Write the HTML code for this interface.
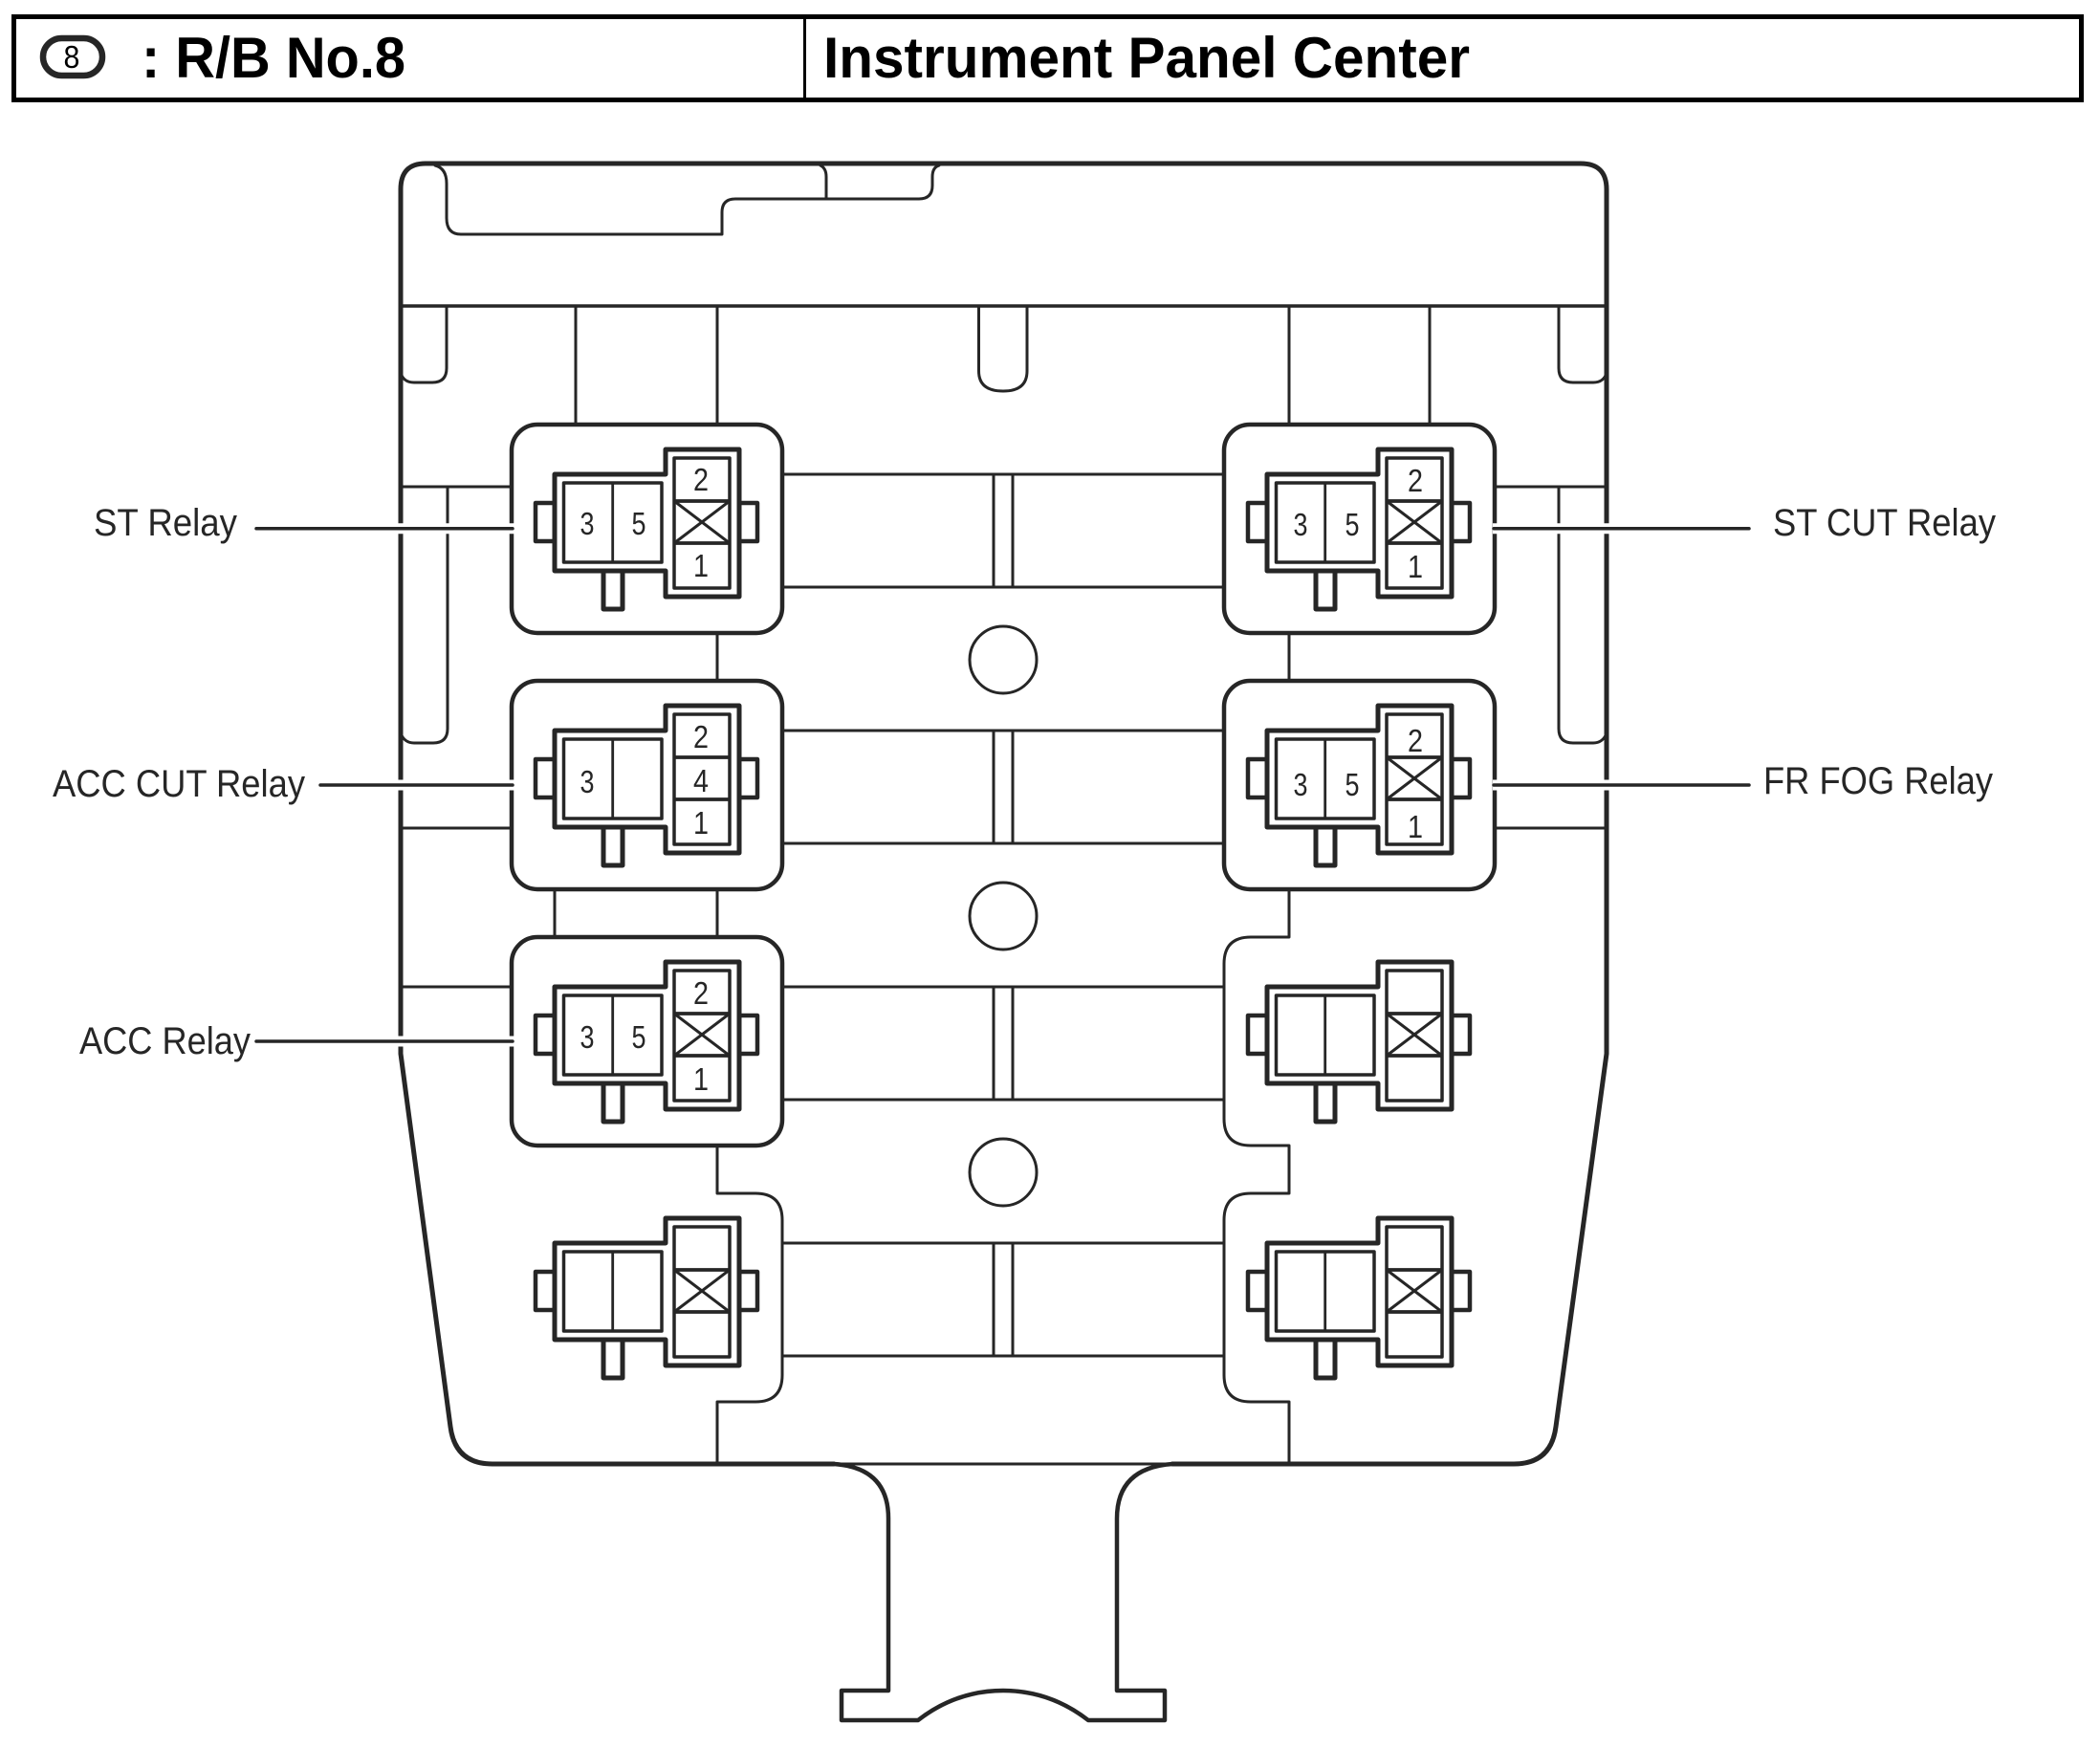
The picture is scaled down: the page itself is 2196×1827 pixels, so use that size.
<!DOCTYPE html>
<html>
<head>
<meta charset="utf-8">
<style>
html,body{margin:0;padding:0;background:#fff;}
svg{display:block;}
text{font-family:"Liberation Sans",sans-serif;fill:#262626;}
</style>
</head>
<body>
<svg width="2196" height="1827" viewBox="0 0 2196 1827" xmlns="http://www.w3.org/2000/svg">
<defs>
  <g id="c" fill="none" stroke="#262626" stroke-linejoin="round">
    <path d="M580 526H560V566H580" stroke-width="4.5"/>
    <path d="M773 526H792V566H773" stroke-width="4.5"/>
    <path d="M631 597V637H651V597" stroke-width="5"/>
    <path d="M580 496H696V470H773V624H696V597H580Z" stroke-width="5"/>
    <rect x="589.5" y="505" width="102.5" height="83" stroke-width="3.5"/>
    <rect x="705" y="479" width="58" height="136" stroke-width="3.5"/>
    <path d="M640.7 505V588" stroke-width="2.8"/>
    <path d="M705 524H763M705 568H763" stroke-width="3.8"/>
  </g>
  <path id="x" d="M705 524L763 568M763 524L705 568" fill="none" stroke="#262626" stroke-width="3"/>
  <g id="bars" fill="none" stroke="#262626" stroke-width="3">
    <path d="M818 496H1281M818 614H1281"/>
    <path d="M1039 496V614M1059 496V614"/>
  </g>
  <rect id="box" x="535" y="444" width="283" height="218" rx="27" ry="27" fill="#fff" stroke="#262626" stroke-width="4.5"/>
</defs>
<rect width="2196" height="1827" fill="#fff"/>

<!-- header -->
<rect x="14.5" y="17.5" width="2162" height="87" fill="none" stroke="#000" stroke-width="5"/>
<path d="M841.5 18V104" stroke="#000" stroke-width="3"/>
<rect x="45" y="40" width="62" height="39" rx="19.5" ry="19.5" fill="#fff" stroke="#262626" stroke-width="6.5"/>
<text x="75" y="71" font-size="33" text-anchor="middle" style="fill:#000" transform="translate(75 0) scale(.92 1) translate(-75 0)">8</text>
<text x="148" y="81" font-size="60" font-weight="700" style="fill:#000" textLength="276" lengthAdjust="spacingAndGlyphs">: R/B No.8</text>
<text x="861" y="81" font-size="60" font-weight="700" style="fill:#000" textLength="676" lengthAdjust="spacingAndGlyphs">Instrument Panel Center</text>

<!-- body outline -->
<g fill="none" stroke="#262626" stroke-linejoin="round" stroke-linecap="round">
  <path d="M445 171H1653Q1680 171 1680 198V1102L1627 1492Q1622 1531 1583 1531H1226" stroke-width="5"/>
  <path d="M872 1531H515Q476 1531 471 1492L419 1102V198Q419 171 445 171" stroke-width="5"/>
  <path d="M872 1531Q929 1535 929 1588V1768H880V1799H960Q1000 1768 1049 1768Q1098 1768 1138 1799H1218V1768H1168V1588Q1168 1535 1226 1531" stroke-width="4.5"/>
  <path d="M872 1531H1226" stroke-width="3"/>
  <!-- top notch -->
  <path d="M455 173Q467 176 467 192V228Q467 245 482 245H755V222Q755 208 769 208H961Q975 208 975 194V185Q975 175 982 173" stroke-width="3"/>
  <path d="M864 208V185Q864 176 858 173" stroke-width="3"/>
  <path d="M419 320H1680" stroke-width="3.5"/>
  <!-- upper tabs -->
  <path d="M467 320V385Q467 400 452 400H433Q422 400 419 390" stroke-width="3"/>
  <path d="M1023.5 320V388Q1023.5 409 1049 409Q1074 409 1074 388V320" stroke-width="3"/>
  <path d="M1630 320V385Q1630 400 1645 400H1666Q1677 400 1680 390" stroke-width="3"/>
  <!-- verticals top -->
  <path d="M602 320V444M750 320V444M1348 320V444M1495 320V444" stroke-width="3"/>
  <!-- between boxes -->
  <path d="M750 662V712M1348 662V712M580 930V980M750 930V980" stroke-width="3"/>
  <!-- left side horizontals and long tab -->
  <path d="M419 509H535M419 866H535M419 1032H535" stroke-width="3"/>
  <path d="M468 509V762Q468 777 453 777H433Q423 777 419 767" stroke-width="3"/>
  <!-- right side horizontals and long tab -->
  <path d="M1563 509H1680M1563 866H1680" stroke-width="3"/>
  <path d="M1630 509V762Q1630 777 1645 777H1666Q1676 777 1680 767" stroke-width="3"/>
  <!-- lower left partial -->
  <path d="M750 1198V1248H790Q818 1248 818 1276V1438Q818 1466 790 1466H750V1531" stroke-width="3"/>
  <!-- lower right partial -->
  <path d="M1348 930V980H1308Q1280 980 1280 1008V1170Q1280 1198 1308 1198H1348V1248H1308Q1280 1248 1280 1276V1438Q1280 1466 1308 1466H1348V1531" stroke-width="3"/>
</g>

<use href="#bars"/>
<use href="#bars" y="268"/>
<use href="#bars" y="536"/>
<use href="#bars" y="804"/>

<circle cx="1049" cy="690" r="35" fill="#fff" stroke="#262626" stroke-width="3"/>
<circle cx="1049" cy="958" r="35" fill="#fff" stroke="#262626" stroke-width="3"/>
<circle cx="1049" cy="1226" r="35" fill="#fff" stroke="#262626" stroke-width="3"/>

<!-- boxes -->
<use href="#box"/>
<use href="#box" y="268"/>
<use href="#box" y="536"/>
<use href="#box" x="745"/>
<use href="#box" x="745" y="268"/>

<!-- connectors -->
<use href="#c"/><use href="#x"/>
<use href="#c" y="268"/>
<use href="#c" y="536"/><use href="#x" y="536"/>
<use href="#c" y="804"/><use href="#x" y="804"/>
<use href="#c" x="745"/><use href="#x" x="745"/>
<use href="#c" x="745" y="268"/><use href="#x" x="745" y="268"/>
<use href="#c" x="745" y="536"/><use href="#x" x="745" y="536"/>
<use href="#c" x="745" y="804"/><use href="#x" x="745" y="804"/>

<!-- pin numbers -->
<g font-size="33" text-anchor="middle">
  <text x="614" y="559" textLength="15" lengthAdjust="spacingAndGlyphs">3</text>
  <text x="668" y="559" textLength="15" lengthAdjust="spacingAndGlyphs">5</text>
  <text x="733" y="513" textLength="16" lengthAdjust="spacingAndGlyphs">2</text>
  <text x="733" y="603" textLength="16" lengthAdjust="spacingAndGlyphs">1</text>

  <text x="614" y="829" textLength="15" lengthAdjust="spacingAndGlyphs">3</text>
  <text x="733" y="782" textLength="16" lengthAdjust="spacingAndGlyphs">2</text>
  <text x="733" y="828" textLength="16" lengthAdjust="spacingAndGlyphs">4</text>
  <text x="733" y="872" textLength="16" lengthAdjust="spacingAndGlyphs">1</text>

  <text x="614" y="1096" textLength="15" lengthAdjust="spacingAndGlyphs">3</text>
  <text x="668" y="1096" textLength="15" lengthAdjust="spacingAndGlyphs">5</text>
  <text x="733" y="1050" textLength="16" lengthAdjust="spacingAndGlyphs">2</text>
  <text x="733" y="1140" textLength="16" lengthAdjust="spacingAndGlyphs">1</text>

  <text x="1360" y="560" textLength="15" lengthAdjust="spacingAndGlyphs">3</text>
  <text x="1414" y="560" textLength="15" lengthAdjust="spacingAndGlyphs">5</text>
  <text x="1480" y="514" textLength="16" lengthAdjust="spacingAndGlyphs">2</text>
  <text x="1480" y="604" textLength="16" lengthAdjust="spacingAndGlyphs">1</text>

  <text x="1360" y="832" textLength="15" lengthAdjust="spacingAndGlyphs">3</text>
  <text x="1414" y="832" textLength="15" lengthAdjust="spacingAndGlyphs">5</text>
  <text x="1480" y="786" textLength="16" lengthAdjust="spacingAndGlyphs">2</text>
  <text x="1480" y="876" textLength="16" lengthAdjust="spacingAndGlyphs">1</text>
</g>

<!-- leader lines -->
<g fill="none" stroke-linecap="round">
  <g stroke="#fff" stroke-width="11" stroke-linecap="butt">
    <path d="M405 552.7H538M405 821H538M405 1089H538"/>
    <path d="M1561 552.7H1695M1561 821H1695"/>
  </g>
  <g stroke="#262626" stroke-width="3.5">
    <path d="M268 552.7H536M335 821H536M268 1089H536"/>
    <path d="M1562 552.7H1829M1562 821H1829"/>
  </g>
</g>

<!-- labels -->
<text x="98" y="560" font-size="40" textLength="150" lengthAdjust="spacingAndGlyphs">ST Relay</text>
<text x="55" y="833" font-size="40" textLength="264" lengthAdjust="spacingAndGlyphs">ACC CUT Relay</text>
<text x="83" y="1102" font-size="40" textLength="179" lengthAdjust="spacingAndGlyphs">ACC Relay</text>
<text x="1854" y="560" font-size="40" textLength="233" lengthAdjust="spacingAndGlyphs">ST CUT Relay</text>
<text x="1844" y="830" font-size="40" textLength="240" lengthAdjust="spacingAndGlyphs">FR FOG Relay</text>
</svg>
</body>
</html>
